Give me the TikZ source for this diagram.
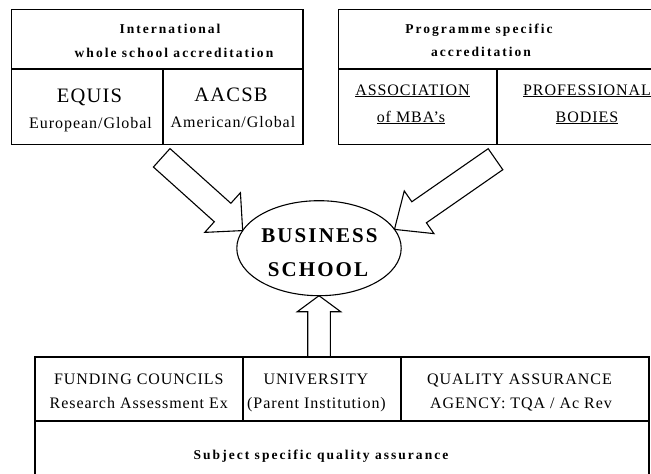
\documentclass[tikz,border=0pt]{standalone}
\usepackage{fontspec}
\setmainfont{Liberation Serif}
\usetikzlibrary{shapes.geometric,calc}

% block arrow: tail, tip, shaft half width, head length, head half width
\newcommand\blockarrow[5]{%
  \coordinate (ba-base) at ($(#2)!#4!(#1)$);
  \draw[blk] ($(#1)!#3!90:(#2)$) -- ($(ba-base)!#3!90:(#2)$)
    -- ($(ba-base)!#5!90:(#2)$) -- (#2)
    -- ($(ba-base)!#5!-90:(#2)$) -- ($(ba-base)!#3!-90:(#2)$)
    -- ($(#1)!#3!-90:(#2)$) -- cycle;
}

\begin{document}
\begin{tikzpicture}[x=1pt,y=-1pt,line width=1.1pt,
  cell/.style={draw,rectangle,inner sep=0pt,outer sep=0pt},
  hdr/.style={font=\fontsize{13.5}{15}\bfseries\addfontfeature{LetterSpace=15},anchor=base,inner sep=0pt},
  txt/.style={font=\fontsize{16}{18}\selectfont\addfontfeature{LetterSpace=6},anchor=base,inner sep=0pt},
  big/.style={font=\fontsize{20.5}{22}\selectfont\addfontfeature{LetterSpace=6},anchor=base,inner sep=0pt},
  school/.style={font=\fontsize{21}{23}\bfseries\addfontfeature{LetterSpace=10},anchor=base,inner sep=0pt},
  blk/.style={draw,line join=miter}]
\useasboundingbox (0,0) rectangle (651,474);
\clip (0,0) rectangle (651,474);

% international whole school accreditation
\node[cell,minimum width=291.5pt,minimum height=59.5pt] (ihead) at (157.25,39.25) {};
\node[cell,minimum width=151.5pt,minimum height=75.5pt] (equis) at (87.25,106.75) {};
\node[cell,minimum width=140pt,minimum height=75.5pt] (aacsb) at (233,106.75) {};
\node[hdr] (t-intl) at (170,33) {International};
\node[hdr] (t-whole) at (174,57) {whole school accreditation};
\node[big] (t-equis) at (89.5,102.5) {EQUIS};
\node[txt] (t-eur) at (90.5,128.3) {European/Global};
\node[big] (t-aacsb) at (231,101.5) {AACSB};
\node[txt] (t-amer) at (233,127) {American/Global};

% programme specific accreditation
\node[cell,minimum width=341.5pt,minimum height=59.5pt] (phead) at (509.25,39.25) {};
\node[cell,minimum width=158.5pt,minimum height=75.5pt] (amba) at (417.75,106.75) {};
\node[cell,minimum width=183pt,minimum height=75.5pt] (prof) at (588.5,106.75) {};
\node[hdr] (t-prog) at (479,33) {Programme specific};
\node[hdr] (t-accr) at (481,56) {accreditation};
\node[txt] (t-assoc) at (412.5,95) {\underline{ASSOCIATION}};
\node[txt] (t-mba) at (411,122) {\underline{of MBA’s}};
\node[txt] (t-prof) at (587,95) {\underline{PROFESSIONAL}};
\node[txt] (t-bod) at (587,122) {\underline{BODIES}};

% the school
\node[draw,ellipse,minimum width=164.4pt,minimum height=95pt,inner sep=0pt,outer sep=0pt] (bs) at (319,248.2) {};
\node[school] (t-bus) at (319.5,242.3) {BUSINESS};
\node[school] (t-sch) at (318,276.7) {SCHOOL};

% national bodies
\node[cell,minimum width=208pt,minimum height=64pt] (fund) at (139,389) {};
\node[cell,minimum width=158pt,minimum height=64pt] (univ) at (322,389) {};
\node[cell,minimum width=248pt,minimum height=64pt] (qaa) at (525,389) {};
\node[cell,minimum width=614pt,minimum height=99pt] (subj) at (342,470.5) {};
\node[txt] (t-fund) at (138.8,384) {FUNDING COUNCILS};
\node[txt] (t-rae) at (138.8,408.5) {Research Assessment Ex};
\node[txt] (t-univ) at (316,384) {UNIVERSITY};
\node[txt] (t-par) at (316.5,408.5) {(Parent Institution)};
\node[txt] (t-qa) at (519.5,384) {QUALITY ASSURANCE};
\node[txt] (t-agency) at (521,408.5) {AGENCY: TQA / Ac Rev};
\node[hdr] (t-subj) at (321,459) {Subject specific quality assurance};

% block arrows into the school
\coordinate (ltail) at (161.7,157.8);
\coordinate (rtail) at (495.5,159.2);
\coordinate (utail) at (bs.south |- univ.north);
\blockarrow{ltail}{bs.167}{12.4pt}{27pt}{26.7pt}
\blockarrow{rtail}{bs.14}{12.8pt}{30pt}{26pt}
\blockarrow{utail}{bs.south}{11.3pt}{16pt}{21.7pt}
\end{tikzpicture}
\end{document}
